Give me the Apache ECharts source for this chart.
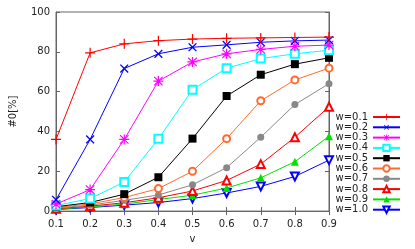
<!DOCTYPE html>
<html><head><meta charset="utf-8">
<script src="https://cdn.jsdelivr.net/npm/echarts@6/dist/echarts.min.js"></script>
<style>html,body{margin:0;padding:0;background:#fff}#c{width:415px;height:249px}</style>
</head><body><div id="c"></div>
<script>
const categories = ['0.1','0.2','0.3','0.4','0.5','0.6','0.7','0.8','0.9'];
const yTicks = [0,20,40,60,80,100];
const names = ['w=0.1','w=0.2','w=0.3','w=0.4','w=0.5','w=0.6','w=0.7','w=0.8','w=0.9','w=1.0'];
const w01 = [36, 79.5, 84, 85.6, 86.4, 86.8, 87.0, 87.2, 87.4];
const w02 = [5.7, 36, 71.6, 79, 82.3, 83.5, 84.8, 85.5, 85.9];
const w03 = [3.5, 10.8, 36, 65.3, 74.9, 79, 81.2, 82.8, 83.4];
const w04 = [2.8, 6.3, 14.6, 36.3, 61, 71.8, 76.6, 79, 80.8];
const w05 = [2.2, 4.3, 8.5, 17, 36.4, 57.8, 68.5, 73.8, 77];
const w06 = [1.8, 3.6, 6.8, 11.3, 20, 36.4, 55.4, 65.9, 71.8];
const w07 = [1.5, 3.0, 5.4, 8.1, 13.2, 21.8, 37.1, 53.5, 64];
const w08 = [1.2, 2.5, 4.2, 6.7, 10.1, 15.4, 23.6, 37.1, 52.4];
const w09 = [1.0, 2.1, 3.5, 5.8, 8.0, 11.6, 16.7, 24.8, 37.6];
const w10 = [0.8, 1.8, 3.0, 4.3, 6.3, 9.1, 12.4, 17.4, 25.6];
const seriesData = [w01,w02,w03,w04,w05,w06,w07,w08,w09,w10];

const colors = ['#ff0000','#0000ff','#ff00ff','#00ffff','#000000','#ff6a2e','#888888','#ff0000','#00e000','#0000ff'];
const plus = 'path://M4.4,0 L5.6,0 L5.6,4.4 L10,4.4 L10,5.6 L5.6,5.6 L5.6,10 L4.4,10 L4.4,5.6 L0,5.6 L0,4.4 L4.4,4.4 Z';
const star = 'path://M4.4,0 L5.6,0 L5.6,4.4 L10,4.4 L10,5.6 L5.6,5.6 L5.6,10 L4.4,10 L4.4,5.6 L0,5.6 L0,4.4 L4.4,4.4 Z M1.2,0.4 L5,4.2 L8.8,0.4 L9.6,1.2 L5.8,5 L9.6,8.8 L8.8,9.6 L5,5.8 L1.2,9.6 L0.4,8.8 L4.2,5 L0.4,1.2 Z';
const symbols = [plus, plus, star, 'emptyRect','rect','emptyCircle','circle','emptyTriangle','triangle','emptyTriangle'];
const rotates = [0,45,0,0,0,0,0,0,0,180];
const sizes = [10,11,10,8,8,7,7,8,8,8];

const series = names.map((n,i)=>({
  name:n, type:'line', data:seriesData[i],
  symbol:symbols[i], symbolSize:sizes[i], symbolRotate:rotates[i],
  itemStyle:{color:colors[i], borderWidth:1.2},
  lineStyle:{color:colors[i], width:1},
  z: 10-i
}));

const axisText = {color:'#222', fontSize:10, fontFamily:'DejaVu Sans'};
const chart = echarts.init(document.getElementById('c'), null, {renderer:'canvas'});
chart.setOption({
  animation:false,
  grid:{left:49, right:86, top:12, bottom:34.5, show:true, borderColor:'#666', borderWidth:1},
  xAxis:[{type:'category', data:categories, boundaryGap:false, position:'bottom',
    name:'v', nameLocation:'middle', nameGap:22, nameTextStyle:axisText,
    axisLine:{lineStyle:{color:'#666'}}, axisTick:{inside:true, length:4, lineStyle:{color:'#666'}},
    axisLabel:Object.assign({margin:8}, axisText), splitLine:{show:false}},
    {type:'category', data:categories, boundaryGap:false, position:'top',
    axisLine:{lineStyle:{color:'#666'}}, axisTick:{inside:true, length:4, lineStyle:{color:'#666'}},
    axisLabel:{show:false}, splitLine:{show:false}}],
  yAxis:[{type:'value', min:yTicks[0], max:yTicks[yTicks.length-1], interval:20, position:'left',
    name:'#0[%]', nameLocation:'middle', nameGap:38, nameTextStyle:axisText,
    axisLine:{show:true, lineStyle:{color:'#666'}}, axisTick:{show:true, inside:true, length:4, lineStyle:{color:'#666'}},
    axisLabel:Object.assign({margin:6}, axisText), splitLine:{show:false}},
    {type:'value', min:yTicks[0], max:yTicks[yTicks.length-1], interval:20, position:'right',
    axisLine:{show:true, lineStyle:{color:'#666'}}, axisTick:{show:true, inside:true, length:4, lineStyle:{color:'#666'}},
    axisLabel:{show:false}, splitLine:{show:false}}],
  legend:{data:names, orient:'vertical', right:9, top:107, itemWidth:27, itemHeight:8, itemGap:0.3,
    align:'right', textStyle:{color:'#222', fontSize:10, fontFamily:'DejaVu Sans', padding:[0,0,0,0]}},
  series:series
});
</script></body></html>
